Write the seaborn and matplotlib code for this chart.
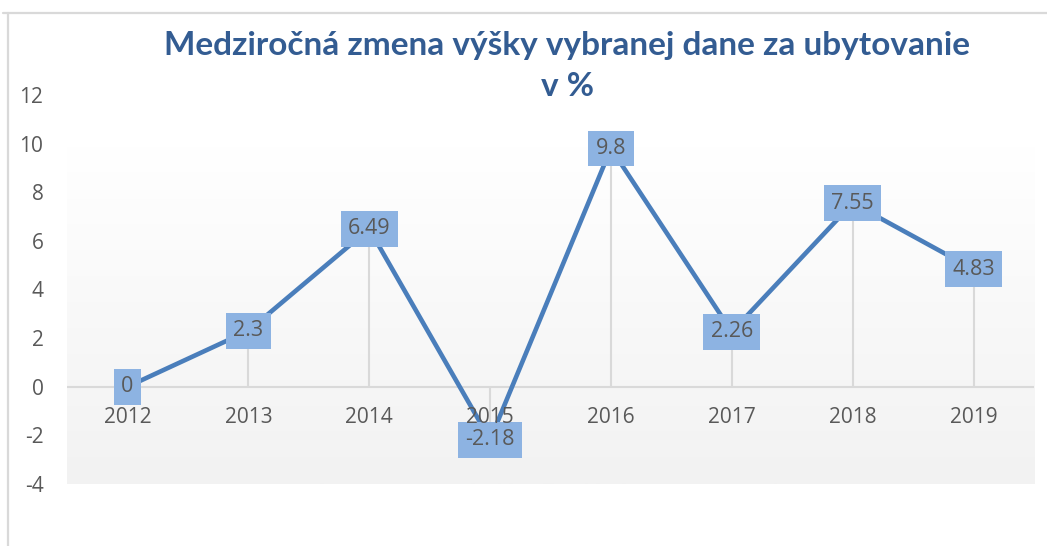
import numpy as np
import pandas as pd
import seaborn as sns
import matplotlib.pyplot as plt
from matplotlib.lines import Line2D

years = ["2012", "2013", "2014", "2015", "2016", "2017", "2018", "2019"]
values = [0, 2.3, 6.49, -2.18, 9.8, 2.26, 7.55, 4.83]
labels = ["0", "2.3", "6.49", "-2.18", "9.8", "2.26", "7.55", "4.83"]
yticks = [-4, -2, 0, 2, 4, 6, 8, 10, 12]

df = pd.DataFrame({"pos": np.arange(len(years)), "val": values})

sns.set_style("white")
plt.rcParams["font.family"] = ["Open Sans", "DejaVu Sans"]

fig = plt.figure(figsize=(10.47, 5.46), dpi=100)
ax = fig.add_axes([0.064, 0.1136, 0.9236, 0.7125])
ax.set_facecolor("none")

# outer chart frame (left and top edge visible)
fig.add_artist(Line2D([0.0076, 0.0076], [0.0, 0.976], color="#d9d9d9", lw=1.6))
fig.add_artist(Line2D([0.003, 1.0], [0.976, 0.976], color="#d9d9d9", lw=1.6))

# gradient plot area, white on top -> light grey at bottom
grad = np.linspace(0, 1, 256).reshape(-1, 1)
cmap = sns.blend_palette(["#ffffff", "#f2f2f2"], as_cmap=True)
ax.imshow(grad, extent=(-0.5, 7.5, -4, 9.9), aspect="auto", cmap=cmap,
          zorder=0, origin="upper")

# zero line and drop lines
ax.axhline(0, color="#d9d9d9", lw=1.5, zorder=1)
ax.vlines(df.pos, 0, df.val, color="#d9d9d9", lw=1.5, zorder=1)

sns.lineplot(data=df, x="pos", y="val", color="#4a7ebb", lw=3.3, ax=ax,
             zorder=2)

for x, y, t in zip(df.pos, df.val, labels):
    ax.text(x, y, t, ha="center", va="center", fontsize=15.5, color="#595959",
            zorder=4,
            bbox=dict(boxstyle="square,pad=0.34", fc="#8db3e2", ec="none"))

for x, t in zip(df.pos, years):
    ax.annotate(t, (x, 0), xytext=(0, -22.5), textcoords="offset points",
                ha="center", va="center", fontsize=15, color="#595959",
                zorder=5)

ax.set_xlim(-0.5, 7.5)
ax.set_ylim(-4, 12)
ax.set_xticks([])
ax.set_yticks(yticks)
ax.set_yticklabels([str(v) for v in yticks], fontsize=15, color="#595959")
ax.tick_params(axis="y", length=0, pad=17)
ax.set_xlabel("")
ax.set_ylabel("")
sns.despine(ax=ax, left=True, bottom=True)

fig.text(0.542, 0.916, "Medziročná zmena výšky vybranej dane za ubytovanie",
         ha="center", va="center", fontsize=24, fontweight="bold",
         color="#335c92", family=["Lato", "DejaVu Sans"])
fig.text(0.542, 0.842, "v %", ha="center", va="center", fontsize=24,
         fontweight="bold", color="#335c92", family=["Lato", "DejaVu Sans"])

fig.savefig("out.png", dpi=100)
